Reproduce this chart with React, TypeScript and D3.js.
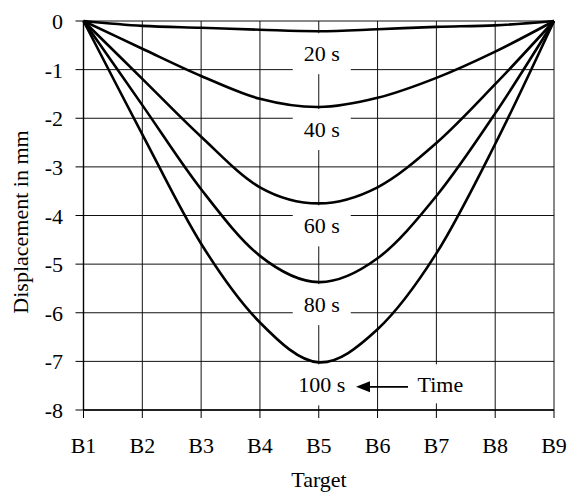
import React from 'react'
import * as d3 from 'd3'

const targets = ['B1', 'B2', 'B3', 'B4', 'B5', 'B6', 'B7', 'B8', 'B9']
const yTicks = [0, -1, -2, -3, -4, -5, -6, -7, -8]
const times = ['20 s', '40 s', '60 s', '80 s', '100 s']

const s20 = [0, -0.1, -0.14, -0.18, -0.21, -0.17, -0.12, -0.09, 0]
const s40 = [0, -0.57, -1.13, -1.6, -1.77, -1.58, -1.17, -0.63, 0]
const s60 = [0, -1.19, -2.38, -3.42, -3.75, -3.42, -2.51, -1.3, 0]
const s80 = [0, -1.73, -3.46, -4.83, -5.37, -4.88, -3.6, -1.9, 0]
const s100 = [0, -2.33, -4.58, -6.2, -7.02, -6.34, -4.78, -2.53, 0]
const series = [s20, s40, s60, s80, s100]

const width = 568
const height = 493
const left = 83.5
const right = 554
const top = 21
const bottom = 410
const font = '"Liberation Serif", "Times New Roman", serif'

export default function App() {
  const x = d3.scalePoint<string>().domain(targets).range([left, right])
  const y = d3.scaleLinear().domain([-8, 0]).range([bottom, top])

  const line = d3
    .line<number>()
    .x((_, i) => x(targets[i]) as number)
    .y(d => y(d))
    .curve(d3.curveCatmullRom.alpha(0))

  const labelX = (x('B5') as number) + 3
  const timeX = (x('B7') as number) + 4

  return (
    <svg width={width} height={height} style={{ position: 'absolute', left: 0, top: 0 }}>
      <rect width={width} height={height} fill="#fff" />

      {/* grid */}
      {yTicks.map(t => (
        <line key={'h' + t} x1={left} x2={right} y1={y(t)} y2={y(t)} stroke="#111" strokeWidth={1} />
      ))}
      {targets.map(t => (
        <line key={'v' + t} x1={x(t)} x2={x(t)} y1={top} y2={bottom} stroke="#111" strokeWidth={1} />
      ))}

      {/* axes */}
      <line x1={left} x2={left} y1={top} y2={bottom} stroke="#000" strokeWidth={1.4} />
      <line x1={left} x2={right} y1={bottom} y2={bottom} stroke="#000" strokeWidth={1.4} />
      {yTicks.map(t => (
        <g key={'yt' + t}>
          <line x1={left - 8} x2={left} y1={y(t)} y2={y(t)} stroke="#000" />
          <text x={63} y={y(t) + 8} textAnchor="end" fontFamily={font} fontSize={22} fill="#000">
            {t}
          </text>
        </g>
      ))}
      {targets.map(t => (
        <g key={'xt' + t}>
          <line x1={x(t)} x2={x(t)} y1={bottom} y2={bottom + 8} stroke="#000" />
          <text x={x(t)} y={453} textAnchor="middle" fontFamily={font} fontSize={22} fill="#000">
            {t}
          </text>
        </g>
      ))}

      {/* label boxes */}
      {series.map((s, i) => {
        const yMin = y(d3.min(s) as number)
        const base = yMin + 30
        return (
          <rect key={'b' + i} x={labelX - 29} y={yMin + 2} width={58} height={base + 11 - yMin} fill="#fff" />
        )
      })}
      <rect x={timeX - 30} y={y(-7.02) + 2} width={60} height={39} fill="#fff" />

      {/* curves */}
      {series.map((s, i) => (
        <path key={'c' + i} d={line(s) as string} fill="none" stroke="#000" strokeWidth={2.6} />
      ))}

      {/* labels */}
      {series.map((s, i) => (
        <text
          key={'l' + i}
          x={labelX}
          y={y(d3.min(s) as number) + 30}
          textAnchor="middle"
          fontFamily={font}
          fontSize={22}
          fill="#000"
        >
          {times[i]}
        </text>
      ))}
      <text x={timeX} y={y(-7.02) + 30} textAnchor="middle" fontFamily={font} fontSize={22} fill="#000">
        Time
      </text>
      <line x1={366} x2={408} y1={y(-7.02) + 24.5} y2={y(-7.02) + 24.5} stroke="#000" strokeWidth={1.8} />
      <path
        d={`M356,${y(-7.02) + 24.5} L370,${y(-7.02) + 19} L370,${y(-7.02) + 30} Z`}
        fill="#000"
      />

      {/* titles */}
      <text x={319} y={487} textAnchor="middle" fontFamily={font} fontSize={22} fill="#000">
        Target
      </text>
      <text
        transform={`translate(28, 222) rotate(-90)`}
        textAnchor="middle"
        fontFamily={font}
        fontSize={22}
        fill="#000"
      >
        Displacement in mm
      </text>
    </svg>
  )
}
